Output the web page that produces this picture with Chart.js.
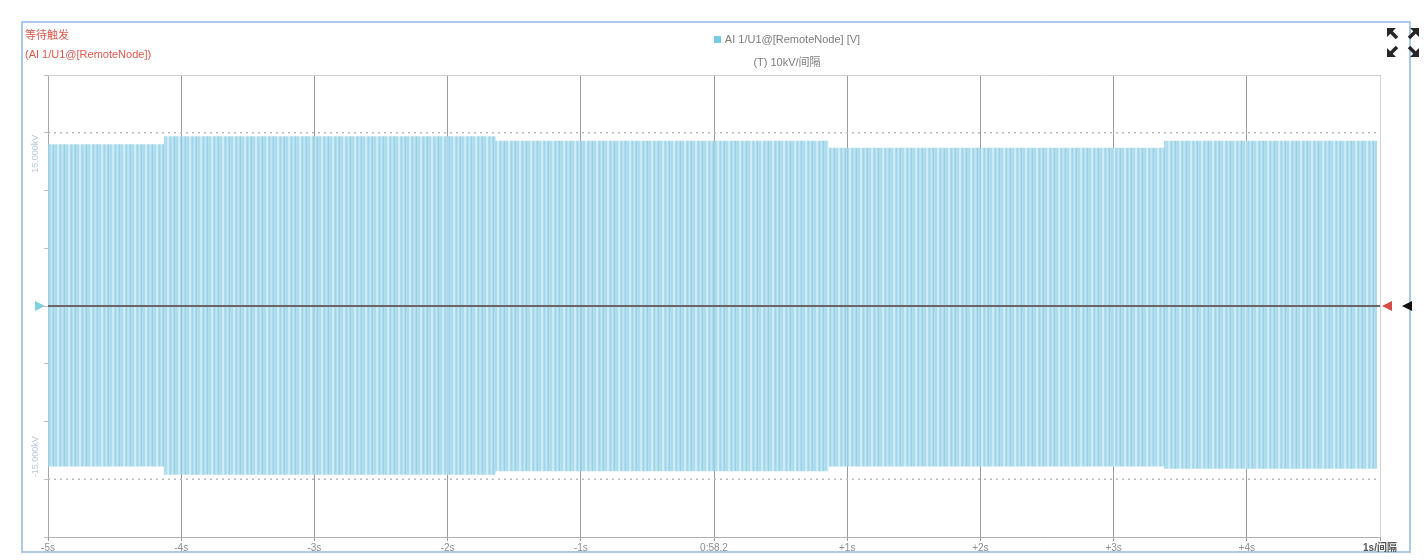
<!DOCTYPE html>
<html>
<head>
<meta charset="utf-8">
<script src="https://cdn.jsdelivr.net/npm/chart.js@4"></script>
<style>
  html, body { margin: 0; padding: 0; background: #fff; }
  #wrap { position: relative; width: 1427px; height: 560px; }
  canvas { position: absolute; left: 0; top: 0; }
  .lbl { position: absolute; font-family: "Liberation Sans", "Noto Sans CJK SC", sans-serif; font-size: 11px; white-space: nowrap; }
  .red { color: #e0594c; }
  .legend { color: #7d7d7d; left: 640px; width: 294px; text-align: center; }
  .swatch { display: inline-block; width: 7px; height: 7px; background: #79cbe4; margin-right: 4px; vertical-align: 0; }
</style>
</head>
<body>
<div id="wrap">
  <canvas id="waveChart" width="1427" height="560"></canvas>
  <div class="lbl red" style="left:25px; top:26px;">等待触发</div>
  <div class="lbl red" style="left:25px; top:48px;">(AI 1/U1@[RemoteNode])</div>
  <div class="lbl legend" style="top:33px;"><span class="swatch"></span>AI 1/U1@[RemoteNode] [V]</div>
  <div class="lbl legend" style="top:53px;">(T) 10kV/间隔</div>
</div>
<script>
// time axis (seconds relative to trigger)
const timeTicks = [-5, -4, -3, -2, -1, 0, 1, 2, 3, 4, 5];
const timeTickLabels = ['-5s', '-4s', '-3s', '-2s', '-1s', '0:58.2', '+1s', '+2s', '+3s', '+4s', '1s/间隔'];

// envelope of the AC signal in kV, held from each time until the next
const envTimes = [-5.00, -4.13, -1.64, 0.86, 3.38, 4.98];
const envUpper = [14.0, 14.7, 14.3, 13.7, 14.3, 14.3];
const envLower = [-13.9, -14.6, -14.3, -13.9, -14.1, -14.1];

// limit lines and their labels
const limitLevels = [15, -15];
const limitLabels = ['15.000kV', '-15.000kV'];

const canvas = document.getElementById('waveChart');
const ctx = canvas.getContext('2d');

// striped fill to look like the dense sine trace
const stripe = document.createElement('canvas');
stripe.width = 11; stripe.height = 1;
const sctx = stripe.getContext('2d');
const stripeColors = ['rgba(160,214,233,0.85)', 'rgba(160,214,233,0.85)', 'rgba(192,231,244,0.85)', 'rgba(200,235,246,0.85)',
                      'rgba(160,214,233,0.85)', 'rgba(146,206,229,0.85)', 'rgba(168,219,236,0.85)', 'rgba(182,226,241,0.85)',
                      'rgba(160,214,233,0.85)', 'rgba(136,200,224,0.85)', 'rgba(165,217,235,0.85)'];
stripeColors.forEach((c, i) => { sctx.fillStyle = c; sctx.fillRect(i, 0, 1, 1); });
const stripeFill = ctx.createPattern(stripe, 'repeat');

const pts = (ys) => envTimes.map((t, i) => ({ x: t, y: ys[i] }));

const decor = {
    id: 'decor',
    beforeDraw(chart) {
        const c = chart.ctx;
        c.save();
        c.fillStyle = '#fff';
        c.fillRect(0, 0, chart.width, chart.height);
        c.strokeStyle = '#a9cbe9';
        c.lineWidth = 2;
        c.strokeRect(22, 22, 1388, 530);
        c.restore();
    },
    afterDraw(chart) {
        const c = chart.ctx;
        const a = chart.chartArea;
        const y = chart.scales.y;
        c.save();
        // plot frame top / right
        c.strokeStyle = '#d2d2d2';
        c.lineWidth = 1;
        c.beginPath();
        c.moveTo(a.left, a.top + 0.5); c.lineTo(a.right + 0.5, a.top + 0.5); c.lineTo(a.right + 0.5, a.bottom);
        c.stroke();

        // rotated limit labels
        c.fillStyle = '#b9c9dc';
        c.font = '9px "Liberation Sans", sans-serif';
        limitLevels.forEach((v, i) => {
            const py = y.getPixelForValue(v);
            c.save();
            c.translate(36, py);
            c.rotate(-Math.PI / 2);
            c.textBaseline = 'middle';
            c.textAlign = v > 0 ? 'right' : 'left';
            c.fillText(limitLabels[i], v > 0 ? -2 : 2, 0);
            c.restore();
        });

        // zero markers
        const zy = y.getPixelForValue(0);
        const tri = (x0, dir, col) => {
            c.fillStyle = col;
            c.beginPath();
            c.moveTo(x0, zy); c.lineTo(x0 - 10 * dir, zy - 5); c.lineTo(x0 - 10 * dir, zy + 5);
            c.closePath(); c.fill();
        };
        tri(45, 1, '#7fd0df');
        tri(a.right + 2, -1, '#d24b44');
        tri(1402, -1, '#111');

        // fullscreen icon
        c.strokeStyle = '#262626';
        c.fillStyle = '#262626';
        c.lineWidth = 3.5;
        const arrow = (x1, y1, x2, y2) => {
            c.beginPath(); c.moveTo(x1, y1); c.lineTo(x2 - Math.sign(x2 - x1) * 3, y2 - Math.sign(y2 - y1) * 3); c.stroke();
            const dx = Math.sign(x2 - x1), dy = Math.sign(y2 - y1);
            c.beginPath();
            c.moveTo(x2, y2); c.lineTo(x2 - dx * 9, y2); c.lineTo(x2, y2 - dy * 9);
            c.closePath(); c.fill();
        };
        arrow(1397, 38, 1387, 28);
        arrow(1409, 38, 1419, 28);
        arrow(1397, 47, 1387, 57);
        arrow(1409, 47, 1419, 57);
        c.restore();
    }
};

const waveChart = new Chart(ctx, {
    type: 'line',
    data: {
        datasets: [
            {
                label: 'AI 1/U1@[RemoteNode] [V]',
                data: pts(envUpper),
                stepped: true,
                borderWidth: 0,
                borderColor: 'rgba(0,0,0,0)',
                backgroundColor: stripeFill,
                pointRadius: 0,
                fill: '+1',
                order: 3
            },
            {
                label: 'lower',
                data: pts(envLower),
                stepped: true,
                borderWidth: 0,
                borderColor: 'rgba(0,0,0,0)',
                pointRadius: 0,
                fill: false,
                order: 3
            },
            {
                label: 'zero',
                data: [{ x: -5, y: 0 }, { x: 5, y: 0 }],
                borderColor: '#6e6466',
                borderWidth: 2,
                pointRadius: 0,
                fill: false,
                order: 1
            },
            ...limitLevels.map(v => ({
                label: 'limit ' + v,
                data: [{ x: -5, y: v }, { x: 5, y: v }],
                borderColor: '#b8b8b8',
                borderWidth: 1.5,
                borderDash: [2, 4],
                pointRadius: 0,
                fill: false,
                order: 2
            }))
        ]
    },
    options: {
        responsive: false,
        animation: false,
        layout: { padding: { left: 40, right: 47, top: 75, bottom: 6 } },
        plugins: { legend: { display: false }, tooltip: { enabled: false } },
        scales: {
            x: {
                type: 'linear',
                min: -5,
                max: 5,
                afterBuildTicks: (s) => { s.ticks = timeTicks.map(v => ({ value: v })); },
                afterFit: (s) => { s.height = 17; },
                ticks: {
                    autoSkip: false,
                    maxRotation: 0,
                    padding: 1,
                    font: (c) => ({ family: '"Liberation Sans", "Noto Sans CJK SC", sans-serif', size: 10,
                                    weight: c.index === timeTicks.length - 1 ? 'bold' : 'normal' }),
                    color: (c) => c.index === timeTicks.length - 1 ? '#555' : '#8e8e8e',
                    callback: (value) => {
                        const i = timeTicks.indexOf(value);
                        return i >= 0 ? timeTickLabels[i] : '';
                    }
                },
                grid: { color: 'rgba(120,120,120,0.75)', tickLength: 4, lineWidth: 1 },
                border: { color: '#b0b0b0' }
            },
            y: {
                min: -20,
                max: 20,
                afterFit: (s) => { s.width = 8; },
                ticks: { stepSize: 5, display: false },
                grid: { drawOnChartArea: false, tickLength: 4, color: '#bdbdbd' },
                border: { color: '#a8a8a8' }
            }
        }
    },
    plugins: [decor]
});
</script>
</body>
</html>
